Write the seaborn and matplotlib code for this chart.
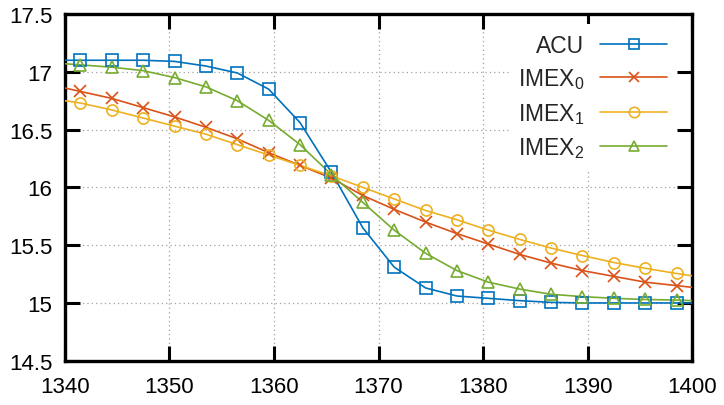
import matplotlib.pyplot as plt
from matplotlib.lines import Line2D
import seaborn as sns

sns.set_theme(style="ticks")
plt.rcParams['font.family'] = ['Liberation Sans', 'DejaVu Sans']
plt.rcParams['mathtext.default'] = 'regular'

# marker positions (every 3 units)
x_markers = [1341.5, 1344.5, 1347.5, 1350.5, 1353.5, 1356.5, 1359.5, 1362.5, 1365.5, 1368.5,
             1371.5, 1374.5, 1377.5, 1380.5, 1383.5, 1386.5, 1389.5, 1392.5, 1395.5, 1398.5]

acu = [17.10, 17.10, 17.10, 17.09, 17.05, 16.99, 16.85, 16.56, 16.13, 15.65,
       15.31, 15.13, 15.06, 15.04, 15.02, 15.005, 15.00, 15.00, 15.00, 15.00]
imex0 = [16.83, 16.77, 16.69, 16.61, 16.52, 16.42, 16.30, 16.19, 16.08, 15.93,
         15.81, 15.70, 15.60, 15.51, 15.42, 15.345, 15.28, 15.23, 15.18, 15.15]
imex1 = [16.73, 16.67, 16.60, 16.53, 16.46, 16.37, 16.28, 16.19, 16.10, 16.00,
         15.90, 15.80, 15.72, 15.63, 15.55, 15.475, 15.41, 15.35, 15.30, 15.255]
imex2 = [17.06, 17.04, 17.01, 16.95, 16.87, 16.75, 16.58, 16.37, 16.11, 15.87,
         15.63, 15.43, 15.28, 15.18, 15.12, 15.075, 15.055, 15.04, 15.03, 15.025]

# curve values at the plot edges (x = 1340 and x = 1400)
x_edges = [1340, 1400]
acu_edges = [17.10, 15.00]
imex0_edges = [16.86, 15.135]
imex1_edges = [16.75, 15.235]
imex2_edges = [17.07, 15.02]

labels = ['ACU', 'IMEX$_0$', 'IMEX$_1$', 'IMEX$_2$']
colors = ['#0072BD', '#D95319', '#EDB120', '#77AC30']
markers = ['s', 'x', 'o', '^']

series = [(acu, acu_edges), (imex0, imex0_edges), (imex1, imex1_edges), (imex2, imex2_edges)]

fig = plt.figure(figsize=(7.24, 4.06), dpi=100)
ax = fig.add_axes([0.0894, 0.109, 0.8668, 0.854])

handles = []
for (vals, edges), lab, c, m in zip(series, labels, colors, markers):
    xl = [x_edges[0]] + x_markers + [x_edges[1]]
    yl = [edges[0]] + vals + [edges[1]]
    sns.lineplot(x=xl, y=yl, ax=ax, color=c, linewidth=1.2, sort=False, zorder=3)
    sns.lineplot(x=x_markers, y=vals, ax=ax, color=c, linestyle='', marker=m,
                 markersize=8 if m != 'x' else 8.5, markerfacecolor='none',
                 markeredgecolor=c, markeredgewidth=1.2, sort=False, zorder=4)
    handles.append(Line2D([], [], color=c, linewidth=1.2, marker=m, markersize=7.5,
                          markerfacecolor='none', markeredgecolor=c, markeredgewidth=1.2))

ax.set_xlim(1340, 1400)
ax.set_ylim(14.5, 17.5)
ax.set_xticks([1340, 1350, 1360, 1370, 1380, 1390, 1400])
ax.set_yticks([14.5, 15, 15.5, 16, 16.5, 17, 17.5])
ax.set_yticklabels(['14.5', '15', '15.5', '16', '16.5', '17', '17.5'])
ax.grid(True, color='#a0a0a0', linestyle=(0, (1, 2.5)), linewidth=0.9)
ax.set_axisbelow(True)

for s in ax.spines.values():
    s.set_visible(True)
    s.set_linewidth(2.4)
    s.set_color('black')
ax.tick_params(direction='in', length=11, width=2.2, top=True, right=True,
               labelsize=16, pad=11, colors='black')
ax.tick_params(axis='y', pad=9)

leg = ax.legend(handles, labels, loc='upper right', markerfirst=False, fontsize=16.5,
                handlelength=2.9, handletextpad=0.7, labelspacing=0.42,
                frameon=True, framealpha=1, facecolor='white', edgecolor='none',
                borderaxespad=0.3, borderpad=0.4, numpoints=1,
                bbox_to_anchor=(0.985, 0.99))
for t in leg.get_texts():
    t.set_ha('right')

fig.savefig('out.png', dpi=100)
